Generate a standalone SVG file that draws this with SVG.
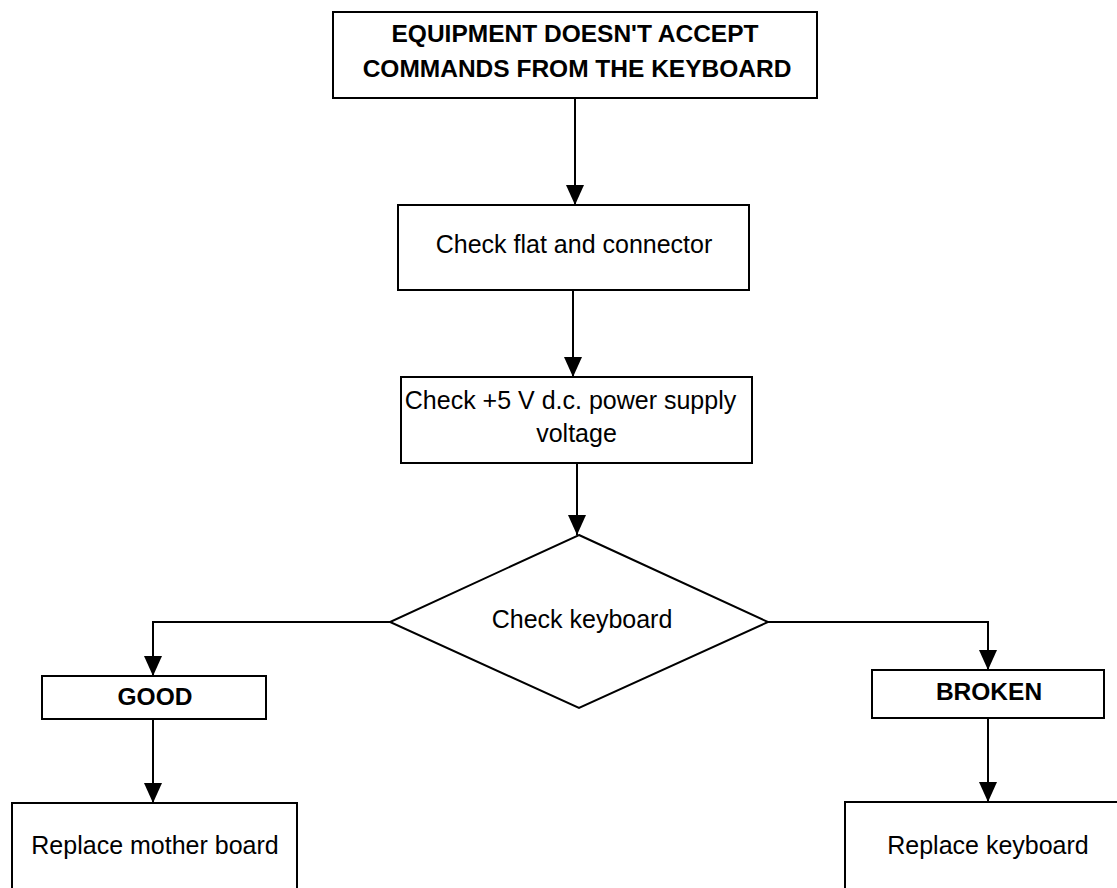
<svg xmlns="http://www.w3.org/2000/svg" width="1117" height="888" viewBox="0 0 1117 888">
<style>
.box{fill:#fff;stroke:#000;stroke-width:2}
.t{font-family:"Liberation Sans",Arial,sans-serif;font-size:25px;fill:#000;text-anchor:middle}
.b{font-weight:bold;font-size:24.5px}
.c{fill:none;stroke:#000;stroke-width:2}
</style>
<defs>
<marker id="ah" viewBox="0 0 20 18" refX="20" refY="9" markerWidth="20" markerHeight="18" markerUnits="userSpaceOnUse" orient="auto">
<path d="M0,0 L20,9 L0,18 z" fill="#000"/>
</marker>
</defs>
<rect width="1117" height="888" fill="#fff"/>
<g id="connectors">
<path class="c" d="M575,98 L575,205" marker-end="url(#ah)"/>
<path class="c" d="M573,290 L573,377" marker-end="url(#ah)"/>
<path class="c" d="M577,463 L577,535" marker-end="url(#ah)"/>
<path class="c" d="M390,622 L153,622 L153,676" marker-end="url(#ah)"/>
<path class="c" d="M768,622 L988,622 L988,670" marker-end="url(#ah)"/>
<path class="c" d="M153,719 L153,803" marker-end="url(#ah)"/>
<path class="c" d="M988,718 L988,802" marker-end="url(#ah)"/>
</g>
<g id="start">
<rect class="box" x="333" y="12" width="484" height="86"/>
<text class="t b" x="575" y="42">EQUIPMENT DOESN'T ACCEPT</text>
<text class="t b" x="577" y="77">COMMANDS FROM THE KEYBOARD</text>
</g>
<g id="check-flat">
<rect class="box" x="398" y="205" width="351" height="85"/>
<text class="t" x="574" y="253">Check flat and connector</text>
</g>
<g id="check-power">
<rect class="box" x="401" y="377" width="351" height="86"/>
<text class="t" x="570.5" y="409">Check +5 V d.c. power supply</text>
<text class="t" x="576.5" y="442">voltage</text>
</g>
<g id="check-keyboard">
<polygon class="box" points="579,535 768,622 579,708 390,622"/>
<text class="t" x="582" y="628">Check keyboard</text>
</g>
<g id="good">
<rect class="box" x="42" y="676" width="224" height="43"/>
<text class="t b" x="155" y="705">GOOD</text>
</g>
<g id="broken">
<rect class="box" x="872" y="670" width="232" height="48"/>
<text class="t b" x="989" y="700">BROKEN</text>
</g>
<g id="replace-mother-board">
<rect class="box" x="12" y="803" width="285" height="100"/>
<text class="t" x="155" y="854">Replace mother board</text>
</g>
<g id="replace-keyboard">
<rect class="box" x="845" y="802" width="286" height="100"/>
<text class="t" x="988" y="854">Replace keyboard</text>
</g>
</svg>
